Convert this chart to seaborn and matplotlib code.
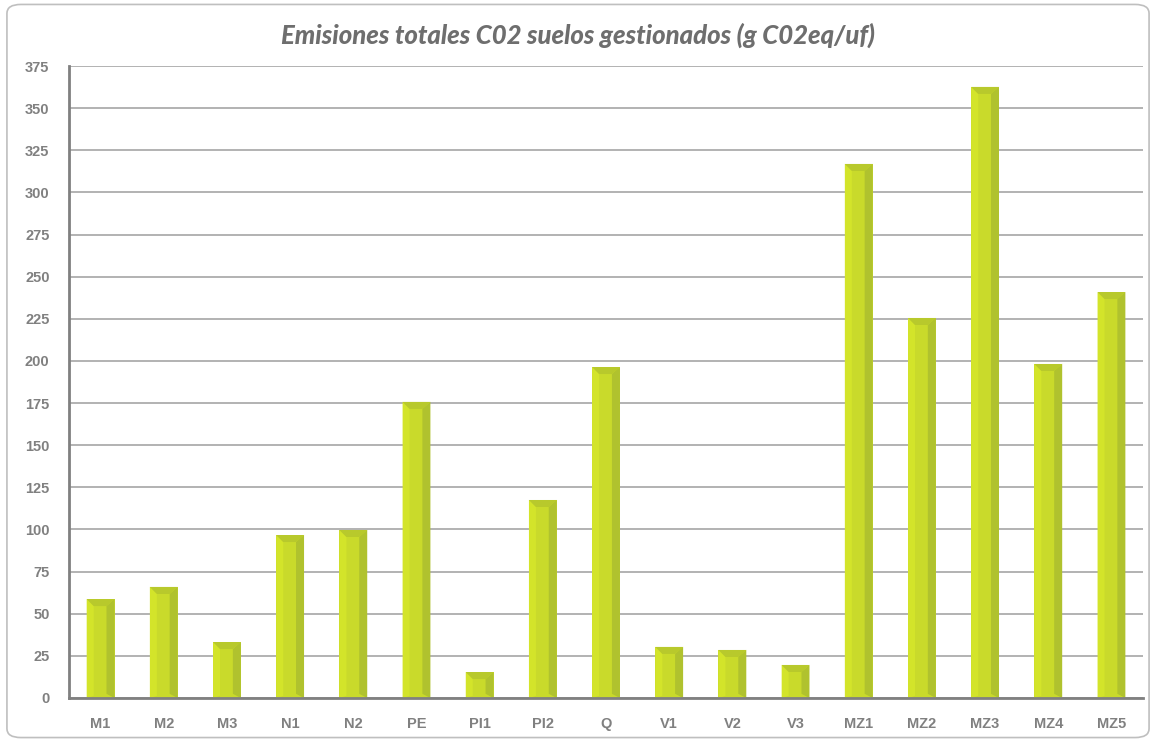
import matplotlib
matplotlib.use("Agg")
import matplotlib.pyplot as plt
import seaborn as sns
import pandas as pd
from matplotlib.patches import Polygon, FancyBboxPatch

categories = ["M1", "M2", "M3", "N1", "N2", "PE", "PI1", "PI2", "Q", "V1", "V2", "V3",
              "MZ1", "MZ2", "MZ3", "MZ4", "MZ5"]
values = [58.7, 65.9, 33.2, 96.7, 99.7, 175.7, 15.4, 117.5, 196.4, 30.3, 28.5, 19.6,
          316.9, 225.5, 362.6, 198.2, 240.9]
yticks = list(range(0, 376, 25))
title = "Emisiones totales C02 suelos gestionados (g C02eq/uf)"

df = pd.DataFrame({"cat": categories, "val": values})

sns.set_style("white")
plt.rcParams["font.family"] = ["Liberation Sans", "DejaVu Sans"]

fig = plt.figure(figsize=(11.56, 7.42), dpi=100)
ax = fig.add_axes([0.0597, 0.0593, 0.9291, 0.8517])

mid = "#c9da2b"
light = "#d3e42a"
dark = "#b0c22e"
topc = "#b8c92c"

sns.barplot(data=df, x="cat", y="val", color=mid, width=0.44, ax=ax,
            saturation=1, edgecolor="none", zorder=3)

ax.set_ylim(0, 375)
ax.set_xlim(-0.5, len(categories) - 0.5)
ax.set_yticks(yticks)
ax.yaxis.grid(True, color="#a6a6a6", linewidth=1.2, zorder=0)
ax.set_axisbelow(True)
ax.set_xlabel("")
ax.set_ylabel("")

# bevel decorations derived from bar geometry
fig.canvas.draw()
ppu = ax.bbox.height / 375.0
ppx = ax.bbox.width / (len(categories))
for p in list(ax.patches):
    x0 = p.get_x(); w = p.get_width(); h = p.get_height()
    sx = 7 / ppx; bx = 8 / ppx
    ty = 7 / ppu
    ax.add_patch(Polygon([(x0, 0), (x0 + sx, ty * 0.3), (x0 + sx, h - ty), (x0, h)],
                         closed=True, facecolor=light, edgecolor="none", zorder=4))
    ax.add_patch(Polygon([(x0 + w, 0), (x0 + w - bx, ty * 0.6), (x0 + w - bx, h - ty), (x0 + w, h)],
                         closed=True, facecolor=dark, edgecolor="none", zorder=4))
    ax.add_patch(Polygon([(x0, h), (x0 + w, h), (x0 + w - bx, h - ty), (x0 + sx, h - ty)],
                         closed=True, facecolor=topc, edgecolor="none", zorder=4))

for s in ["top", "right"]:
    ax.spines[s].set_visible(False)
ax.spines["left"].set_color("#808080")
ax.spines["left"].set_linewidth(2)
ax.spines["bottom"].set_color("#808080")
ax.spines["bottom"].set_linewidth(2)
ax.spines["left"].set_zorder(5)
ax.spines["bottom"].set_zorder(5)

ax.tick_params(axis="both", length=0, colors="#7f7f7f", labelsize=10.5)
ax.tick_params(axis="y", pad=14)
ax.tick_params(axis="x", pad=14)
for lab in ax.get_xticklabels() + ax.get_yticklabels():
    lab.set_fontweight("bold")
    lab.set_color("#808080")

fig.text(0.5, 0.953, title, ha="center", va="center", fontsize=18.5,
         family=["Lato", "DejaVu Sans"], weight="black", style="italic", color="#6e6e6e")

border = FancyBboxPatch((0.006, 0.006), 0.988, 0.988, boxstyle="round,pad=0,rounding_size=0.012",
                        transform=fig.transFigure, facecolor="none", edgecolor="#bfbfbf",
                        linewidth=1.2, zorder=0)
fig.patches.append(border)

fig.savefig("out.png", dpi=100)
